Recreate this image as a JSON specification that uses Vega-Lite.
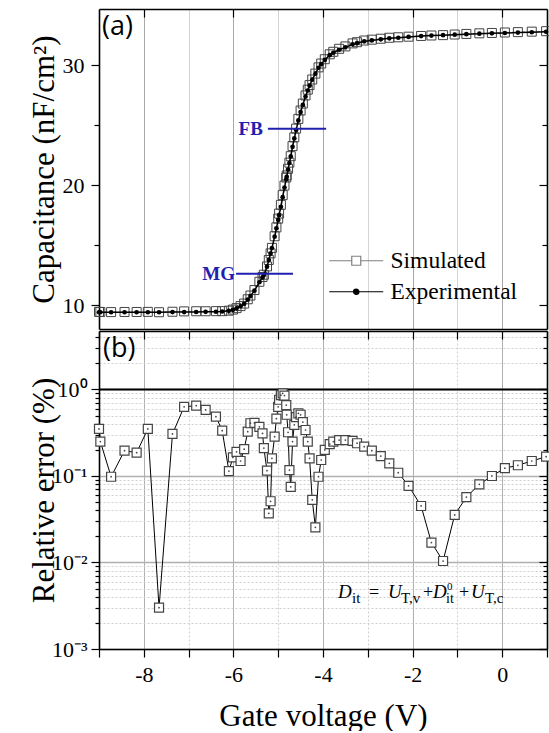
{
  "$schema": "https://vega.github.io/schema/vega-lite/v6.json",
  "padding": {"left": 28, "top": 8, "right": 0, "bottom": 0},
  "background": "white",
  "datasets": {
    "cv": [
      {"V": -9.00, "exp": 9.40, "sim": 9.43, "err": 0.35},
      {"V": -8.97, "exp": 9.40, "sim": 9.42, "err": 0.25},
      {"V": -8.73, "exp": 9.40, "sim": 9.41, "err": 0.098},
      {"V": -8.43, "exp": 9.40, "sim": 9.42, "err": 0.196},
      {"V": -8.16, "exp": 9.40, "sim": 9.42, "err": 0.186},
      {"V": -7.91, "exp": 9.40, "sim": 9.43, "err": 0.35},
      {"V": -7.66, "exp": 9.40, "sim": 9.40, "err": 0.003},
      {"V": -7.36, "exp": 9.41, "sim": 9.44, "err": 0.306},
      {"V": -7.10, "exp": 9.41, "sim": 9.47, "err": 0.63},
      {"V": -6.83, "exp": 9.42, "sim": 9.48, "err": 0.65},
      {"V": -6.62, "exp": 9.43, "sim": 9.48, "err": 0.58},
      {"V": -6.39, "exp": 9.44, "sim": 9.49, "err": 0.485},
      {"V": -6.25, "exp": 9.46, "sim": 9.49, "err": 0.334},
      {"V": -6.10, "exp": 9.52, "sim": 9.53, "err": 0.114},
      {"V": -6.01, "exp": 9.60, "sim": 9.62, "err": 0.164},
      {"V": -5.93, "exp": 9.72, "sim": 9.74, "err": 0.19},
      {"V": -5.84, "exp": 9.90, "sim": 9.91, "err": 0.149},
      {"V": -5.76, "exp": 10.10, "sim": 10.12, "err": 0.204},
      {"V": -5.68, "exp": 10.45, "sim": 10.48, "err": 0.325},
      {"V": -5.62, "exp": 10.75, "sim": 10.79, "err": 0.407},
      {"V": -5.53, "exp": 11.20, "sim": 11.25, "err": 0.41},
      {"V": -5.42, "exp": 11.90, "sim": 11.94, "err": 0.37},
      {"V": -5.35, "exp": 12.30, "sim": 12.34, "err": 0.31},
      {"V": -5.32, "exp": 12.50, "sim": 12.53, "err": 0.21},
      {"V": -5.25, "exp": 13.20, "sim": 13.22, "err": 0.115},
      {"V": -5.21, "exp": 13.75, "sim": 13.76, "err": 0.037},
      {"V": -5.17, "exp": 14.30, "sim": 14.31, "err": 0.051},
      {"V": -5.14, "exp": 14.75, "sim": 14.77, "err": 0.16},
      {"V": -5.08, "exp": 15.70, "sim": 15.74, "err": 0.285},
      {"V": -5.04, "exp": 16.40, "sim": 16.48, "err": 0.46},
      {"V": -5.00, "exp": 17.10, "sim": 17.21, "err": 0.63},
      {"V": -4.98, "exp": 17.50, "sim": 17.63, "err": 0.76},
      {"V": -4.94, "exp": 18.20, "sim": 18.36, "err": 0.86},
      {"V": -4.90, "exp": 19.00, "sim": 19.17, "err": 0.9},
      {"V": -4.86, "exp": 19.80, "sim": 19.97, "err": 0.85},
      {"V": -4.82, "exp": 20.50, "sim": 20.64, "err": 0.66},
      {"V": -4.81, "exp": 20.70, "sim": 20.81, "err": 0.51},
      {"V": -4.78, "exp": 21.30, "sim": 21.37, "err": 0.32},
      {"V": -4.75, "exp": 21.85, "sim": 21.88, "err": 0.117},
      {"V": -4.72, "exp": 22.40, "sim": 22.42, "err": 0.075},
      {"V": -4.68, "exp": 23.20, "sim": 23.26, "err": 0.25},
      {"V": -4.64, "exp": 23.90, "sim": 23.99, "err": 0.39},
      {"V": -4.60, "exp": 24.60, "sim": 24.72, "err": 0.48},
      {"V": -4.55, "exp": 25.40, "sim": 25.53, "err": 0.53},
      {"V": -4.50, "exp": 26.10, "sim": 26.23, "err": 0.51},
      {"V": -4.45, "exp": 26.70, "sim": 26.81, "err": 0.42},
      {"V": -4.39, "exp": 27.40, "sim": 27.49, "err": 0.34},
      {"V": -4.34, "exp": 27.90, "sim": 27.97, "err": 0.25},
      {"V": -4.30, "exp": 28.30, "sim": 28.35, "err": 0.16},
      {"V": -4.24, "exp": 28.80, "sim": 28.82, "err": 0.053},
      {"V": -4.17, "exp": 29.30, "sim": 29.31, "err": 0.0255},
      {"V": -4.10, "exp": 29.80, "sim": 29.83, "err": 0.098},
      {"V": -4.04, "exp": 30.10, "sim": 30.15, "err": 0.153},
      {"V": -3.96, "exp": 30.45, "sim": 30.51, "err": 0.2},
      {"V": -3.85, "exp": 30.85, "sim": 30.92, "err": 0.234},
      {"V": -3.77, "exp": 31.05, "sim": 31.13, "err": 0.25},
      {"V": -3.64, "exp": 31.30, "sim": 31.38, "err": 0.26},
      {"V": -3.50, "exp": 31.50, "sim": 31.58, "err": 0.26},
      {"V": -3.34, "exp": 31.75, "sim": 31.83, "err": 0.255},
      {"V": -3.24, "exp": 31.85, "sim": 31.93, "err": 0.239},
      {"V": -3.08, "exp": 32.00, "sim": 32.07, "err": 0.218},
      {"V": -2.91, "exp": 32.08, "sim": 32.14, "err": 0.196},
      {"V": -2.71, "exp": 32.17, "sim": 32.22, "err": 0.17},
      {"V": -2.52, "exp": 32.25, "sim": 32.30, "err": 0.14},
      {"V": -2.32, "exp": 32.30, "sim": 32.34, "err": 0.109},
      {"V": -2.09, "exp": 32.37, "sim": 32.39, "err": 0.077},
      {"V": -1.81, "exp": 32.44, "sim": 32.45, "err": 0.045},
      {"V": -1.58, "exp": 32.48, "sim": 32.49, "err": 0.017},
      {"V": -1.32, "exp": 32.52, "sim": 32.52, "err": 0.0104},
      {"V": -1.06, "exp": 32.56, "sim": 32.57, "err": 0.0355},
      {"V": -0.80, "exp": 32.60, "sim": 32.62, "err": 0.057},
      {"V": -0.51, "exp": 32.64, "sim": 32.67, "err": 0.08},
      {"V": -0.23, "exp": 32.67, "sim": 32.70, "err": 0.1},
      {"V": 0.06, "exp": 32.70, "sim": 32.74, "err": 0.123},
      {"V": 0.35, "exp": 32.73, "sim": 32.77, "err": 0.133},
      {"V": 0.66, "exp": 32.76, "sim": 32.81, "err": 0.149},
      {"V": 0.98, "exp": 32.80, "sim": 32.85, "err": 0.167}
    ],
    "one": [{}]
  },
  "vconcat": [
    {
      "width": 448,
      "height": 320,
      "data": {"name": "cv"},
      "layer": [
        {
          "mark": {"type": "line", "color": "#9a9a9a", "strokeWidth": 1, "strokeDash": [3, 2]},
          "encoding": {
            "x": {"field": "V", "type": "quantitative", "scale": {"domain": [-9, 1], "nice": false, "zero": false},
              "axis": {"orient": "bottom", "values": [-9, -8, -7, -6, -5, -4, -3, -2, -1, 0, 1], "labels": false, "ticks": false, "title": null, "grid": true,
                "gridColor": {"condition": {"test": "datum.value % 2 == 0", "value": "#a8a8a8"}, "value": "#d4d4d4"}, "gridWidth": 1}},
            "y": {"field": "sim", "type": "quantitative", "scale": {"domain": [8, 34.7], "nice": false, "zero": false},
              "axis": {"orient": "left", "values": [10, 15, 20, 25, 30], "grid": false,
                "tickSize": {"condition": {"test": "datum.value % 10 == 0", "value": 8}, "value": 5},
                "labelExpr": "datum.value % 10 == 0 ? '' + datum.value : ''", "labelPadding": 7, "labelOverlap": false,
                "labelFont": "Liberation Serif", "labelFontSize": 22,
                "title": "Capacitance (nF/cm²)", "titleX": -46, "titleBaseline": "alphabetic"}}
          }
        },
        {
          "mark": {"type": "point", "shape": "square", "size": 81, "filled": false, "stroke": "#444444", "strokeWidth": 1, "opacity": 1},
          "encoding": {
            "x": {"field": "V", "type": "quantitative", "axis": null},
            "y": {"field": "sim", "type": "quantitative", "axis": null}
          }
        },
        {
          "mark": {"type": "line", "color": "black", "strokeWidth": 1.5},
          "encoding": {
            "x": {"field": "V", "type": "quantitative",
              "axis": {"orient": "top", "values": [-8, -6, -4, -2, 0], "labels": false, "grid": false, "tickSize": -8, "title": null}},
            "y": {"field": "exp", "type": "quantitative",
              "axis": {"orient": "right", "values": [10, 15, 20, 25, 30], "labels": false, "grid": false, "title": null,
                "tickSize": {"condition": {"test": "datum.value % 10 == 0", "value": -8}, "value": -5}}}
          }
        },
        {
          "mark": {"type": "point", "shape": "circle", "size": 22, "filled": true, "color": "black", "opacity": 1},
          "encoding": {
            "x": {"field": "V", "type": "quantitative", "axis": null},
            "y": {"field": "exp", "type": "quantitative", "axis": null}
          }
        },
        {
          "data": {"name": "one"},
          "mark": {"type": "rule", "color": "#1f1fb0", "strokeWidth": 2},
          "encoding": {
            "x": {"datum": -5.23, "type": "quantitative", "axis": null},
            "x2": {"datum": -3.93},
            "y": {"datum": 24.7, "type": "quantitative", "axis": null}
          }
        },
        {
          "data": {"name": "one"},
          "mark": {"type": "text", "text": "FB", "color": "#1f1fb0", "font": "Liberation Serif", "fontWeight": "bold", "fontSize": 19, "align": "right", "baseline": "middle", "dx": -5},
          "encoding": {
            "x": {"datum": -5.23, "type": "quantitative", "axis": null},
            "y": {"datum": 24.7, "type": "quantitative", "axis": null}
          }
        },
        {
          "data": {"name": "one"},
          "mark": {"type": "rule", "color": "#1f1fb0", "strokeWidth": 2},
          "encoding": {
            "x": {"datum": -5.94, "type": "quantitative", "axis": null},
            "x2": {"datum": -4.67},
            "y": {"datum": 12.6, "type": "quantitative", "axis": null}
          }
        },
        {
          "data": {"name": "one"},
          "mark": {"type": "text", "text": "MG", "color": "#1f1fb0", "font": "Liberation Serif", "fontWeight": "bold", "fontSize": 19, "align": "right", "baseline": "middle", "dx": -1},
          "encoding": {
            "x": {"datum": -5.94, "type": "quantitative", "axis": null},
            "y": {"datum": 12.6, "type": "quantitative", "axis": null}
          }
        },
        {
          "data": {"name": "one"},
          "mark": {"type": "text", "text": "(a)", "color": "black", "font": "Open Sans", "fontSize": 27, "align": "left", "baseline": "top", "dx": 3, "dy": 5},
          "encoding": {
            "x": {"datum": -9, "type": "quantitative", "axis": null},
            "y": {"datum": 34.7, "type": "quantitative", "axis": null}
          }
        },
        {
          "transform": [{"filter": "false"}],
          "mark": {"type": "point", "opacity": 1, "size": 81, "strokeWidth": 1.2},
          "encoding": {
            "shape": {"field": "series", "type": "nominal",
              "scale": {"domain": ["Simulated", "Experimental"], "range": ["M-1,0H4M4,-1H6V1H4ZM6,0H11", "M-1,0H11M4.4,0A0.6,0.6,0,1,0,5.6,0A0.6,0.6,0,1,0,4.4,0"]},
              "legend": {"orient": "none", "legendX": 223, "legendY": 240, "title": null, "labelFont": "Liberation Serif", "labelFontSize": 23.5, "labelColor": "black", "symbolSize": 81, "symbolStrokeWidth": 1.2, "labelOffset": 45, "rowPadding": 6, "labelLimit": 0}},
            "fill": {"field": "series", "type": "nominal", "scale": {"domain": ["Simulated", "Experimental"], "range": ["white", "black"]}},
            "stroke": {"field": "series", "type": "nominal", "scale": {"domain": ["Simulated", "Experimental"], "range": ["#808080", "black"]}}
          }
        }
      ]
    },
    {
      "width": 448,
      "height": 318,
      "data": {"name": "cv"},
      "layer": [
        {
          "mark": {"type": "line", "color": "black", "strokeWidth": 1},
          "encoding": {
            "x": {"field": "V", "type": "quantitative", "scale": {"domain": [-9, 1], "nice": false, "zero": false},
              "axis": {"orient": "bottom", "values": [-9, -8, -7, -6, -5, -4, -3, -2, -1, 0, 1], "tickSize": 8, "labelPadding": 7,
                "labelExpr": "datum.value % 2 == 0 ? '' + datum.value : ''", "labelOverlap": false,
                "labelFont": "Liberation Serif", "labelFontSize": 22,
                "grid": true,
                "gridColor": {"condition": {"test": "datum.value % 2 == 0", "value": "#b0b0b0"}, "value": "#cfcfcf"},
                "gridDash": {"condition": {"test": "datum.value % 2 == 0", "value": []}, "value": [2, 2]},
                "title": "Gate voltage (V)", "titleY": 76, "titleBaseline": "alphabetic"}},
            "y": {"field": "err", "type": "quantitative", "scale": {"type": "log", "domain": [0.001, 4.74], "nice": false},
              "axis": {"orient": "left",
                "values": [0.001, 0.002, 0.003, 0.004, 0.005, 0.006, 0.007, 0.008, 0.009, 0.01, 0.02, 0.03, 0.04, 0.05, 0.06, 0.07, 0.08, 0.09, 0.1, 0.2, 0.3, 0.4, 0.5, 0.6, 0.7, 0.8, 0.9, 1, 2, 3, 4],
                "tickSize": {"condition": {"test": "indexof([0.001, 0.01, 0.1, 1], datum.value) >= 0", "value": 8}, "value": 4},
                "labelExpr": "datum.value == 0.001 ? '10⁻³' : datum.value == 0.01 ? '10⁻²' : datum.value == 0.1 ? '10⁻¹' : datum.value == 1 ? '10⁰' : ''",
                "labelPadding": 4, "labelOverlap": false,
                "labelFont": "Liberation Serif", "labelFontSize": 22,
                "grid": true,
                "gridColor": {"condition": {"test": "indexof([0.001, 0.01, 0.1, 1], datum.value) >= 0", "value": "#b0b0b0"}, "value": "#cfcfcf"},
                "gridDash": {"condition": {"test": "indexof([0.001, 0.01, 0.1, 1], datum.value) >= 0", "value": []}, "value": [2, 2]},
                "gridWidth": {"condition": {"test": "indexof([0.001, 0.01, 0.1, 1], datum.value) >= 0", "value": 1.5}, "value": 1},
                "title": "Relative error (%)", "titleX": -46, "titleBaseline": "alphabetic"}}
          }
        },
        {
          "data": {"name": "one"},
          "mark": {"type": "rule", "color": "black", "strokeWidth": 2},
          "encoding": {
            "y": {"datum": 1, "type": "quantitative",
              "axis": {"orient": "right",
                "values": [0.001, 0.002, 0.003, 0.004, 0.005, 0.006, 0.007, 0.008, 0.009, 0.01, 0.02, 0.03, 0.04, 0.05, 0.06, 0.07, 0.08, 0.09, 0.1, 0.2, 0.3, 0.4, 0.5, 0.6, 0.7, 0.8, 0.9, 1, 2, 3, 4],
                "labels": false, "grid": false, "title": null,
                "tickSize": {"condition": {"test": "indexof([0.001, 0.01, 0.1, 1], datum.value) >= 0", "value": -8}, "value": -4}}}
          }
        },
        {
          "mark": {"type": "point", "shape": "square", "size": 81, "filled": true, "fill": "white", "stroke": "#444444", "strokeWidth": 1.2, "opacity": 1},
          "encoding": {
            "x": {"field": "V", "type": "quantitative",
              "axis": {"orient": "top", "values": [-9, -8, -7, -6, -5, -4, -3, -2, -1, 0, 1], "labels": false, "grid": false, "tickSize": -8, "title": null}},
            "y": {"field": "err", "type": "quantitative", "axis": null}
          }
        },
        {
          "mark": {"type": "point", "shape": "circle", "size": 3, "filled": true, "color": "#444444", "opacity": 1},
          "encoding": {
            "x": {"field": "V", "type": "quantitative", "axis": null},
            "y": {"field": "err", "type": "quantitative", "axis": null}
          }
        },
        {
          "data": {"name": "one"},
          "mark": {"type": "text", "text": "(b)", "color": "black", "font": "Open Sans", "fontSize": 27, "align": "left", "baseline": "top", "dx": 4, "dy": 5},
          "encoding": {
            "x": {"datum": -9, "type": "quantitative", "axis": null},
            "y": {"datum": 4.74, "type": "quantitative", "axis": null}
          }
        },
        {
          "data": {"name": "one"},
          "mark": {"type": "text", "text": "D", "color": "black", "font": "Liberation Serif", "fontStyle": "italic", "fontSize": 19, "align": "left", "baseline": "alphabetic", "dx": 0},
          "encoding": {"x": {"datum": -3.665, "type": "quantitative", "axis": null}, "y": {"datum": 0.0039, "type": "quantitative", "axis": null}}
        },
        {
          "data": {"name": "one"},
          "mark": {"type": "text", "text": "it", "color": "black", "font": "Liberation Serif", "fontSize": 15, "align": "left", "baseline": "alphabetic", "dx": 14, "dy": 5},
          "encoding": {"x": {"datum": -3.665, "type": "quantitative", "axis": null}, "y": {"datum": 0.0039, "type": "quantitative", "axis": null}}
        },
        {
          "data": {"name": "one"},
          "mark": {"type": "text", "text": "=", "color": "black", "font": "Liberation Serif", "fontSize": 18, "align": "left", "baseline": "alphabetic", "dx": 31},
          "encoding": {"x": {"datum": -3.665, "type": "quantitative", "axis": null}, "y": {"datum": 0.0039, "type": "quantitative", "axis": null}}
        },
        {
          "data": {"name": "one"},
          "mark": {"type": "text", "text": "U", "color": "black", "font": "Liberation Serif", "fontStyle": "italic", "fontSize": 19, "align": "left", "baseline": "alphabetic", "dx": 50},
          "encoding": {"x": {"datum": -3.665, "type": "quantitative", "axis": null}, "y": {"datum": 0.0039, "type": "quantitative", "axis": null}}
        },
        {
          "data": {"name": "one"},
          "mark": {"type": "text", "text": "T,v", "color": "black", "font": "Liberation Serif", "fontSize": 15, "align": "left", "baseline": "alphabetic", "dx": 63, "dy": 5},
          "encoding": {"x": {"datum": -3.665, "type": "quantitative", "axis": null}, "y": {"datum": 0.0039, "type": "quantitative", "axis": null}}
        },
        {
          "data": {"name": "one"},
          "mark": {"type": "text", "text": "+", "color": "black", "font": "Liberation Serif", "fontSize": 18, "align": "left", "baseline": "alphabetic", "dx": 85},
          "encoding": {"x": {"datum": -3.665, "type": "quantitative", "axis": null}, "y": {"datum": 0.0039, "type": "quantitative", "axis": null}}
        },
        {
          "data": {"name": "one"},
          "mark": {"type": "text", "text": "D", "color": "black", "font": "Liberation Serif", "fontStyle": "italic", "fontSize": 19, "align": "left", "baseline": "alphabetic", "dx": 95},
          "encoding": {"x": {"datum": -3.665, "type": "quantitative", "axis": null}, "y": {"datum": 0.0039, "type": "quantitative", "axis": null}}
        },
        {
          "data": {"name": "one"},
          "mark": {"type": "text", "text": "0", "color": "black", "font": "Liberation Serif", "fontSize": 11, "align": "left", "baseline": "alphabetic", "dx": 109, "dy": -8},
          "encoding": {"x": {"datum": -3.665, "type": "quantitative", "axis": null}, "y": {"datum": 0.0039, "type": "quantitative", "axis": null}}
        },
        {
          "data": {"name": "one"},
          "mark": {"type": "text", "text": "it", "color": "black", "font": "Liberation Serif", "fontSize": 14, "align": "left", "baseline": "alphabetic", "dx": 108, "dy": 5},
          "encoding": {"x": {"datum": -3.665, "type": "quantitative", "axis": null}, "y": {"datum": 0.0039, "type": "quantitative", "axis": null}}
        },
        {
          "data": {"name": "one"},
          "mark": {"type": "text", "text": "+", "color": "black", "font": "Liberation Serif", "fontSize": 18, "align": "left", "baseline": "alphabetic", "dx": 121},
          "encoding": {"x": {"datum": -3.665, "type": "quantitative", "axis": null}, "y": {"datum": 0.0039, "type": "quantitative", "axis": null}}
        },
        {
          "data": {"name": "one"},
          "mark": {"type": "text", "text": "U", "color": "black", "font": "Liberation Serif", "fontStyle": "italic", "fontSize": 19, "align": "left", "baseline": "alphabetic", "dx": 133},
          "encoding": {"x": {"datum": -3.665, "type": "quantitative", "axis": null}, "y": {"datum": 0.0039, "type": "quantitative", "axis": null}}
        },
        {
          "data": {"name": "one"},
          "mark": {"type": "text", "text": "T,c", "color": "black", "font": "Liberation Serif", "fontSize": 15, "align": "left", "baseline": "alphabetic", "dx": 147, "dy": 5},
          "encoding": {"x": {"datum": -3.665, "type": "quantitative", "axis": null}, "y": {"datum": 0.0039, "type": "quantitative", "axis": null}}
        }
      ]
    }
  ],
  "spacing": -3,
  "config": {
    "view": {"stroke": null},
    "axis": {
      "domainColor": "black", "domainWidth": 1.6, "tickColor": "black", "tickWidth": 1.2,
      "labelFont": "Liberation Serif", "labelFontSize": 22, "labelColor": "black",
      "titleFont": "Liberation Serif", "titleFontSize": 31, "titleFontWeight": "normal", "titleColor": "black"
    }
  }
}
